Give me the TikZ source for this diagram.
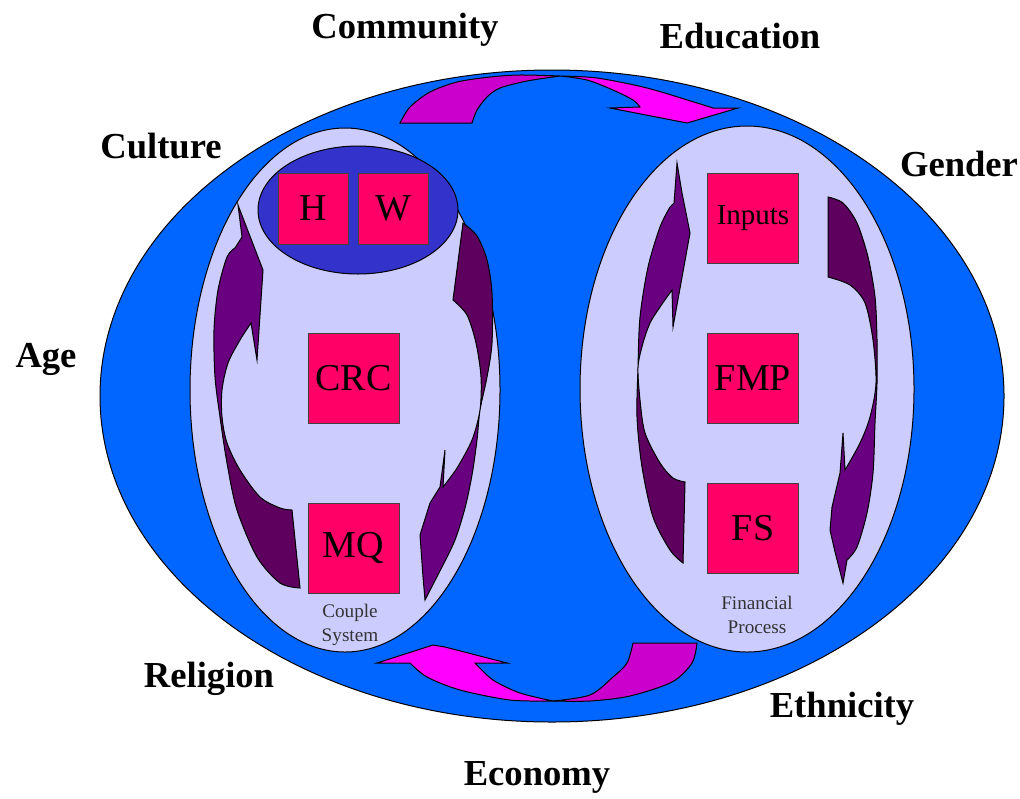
\documentclass[tikz,border=0pt]{standalone}
\usepackage{fontspec}
\setmainfont{Liberation Serif}
\usetikzlibrary{shapes.geometric}
\definecolor{bigblue}{RGB}{0,102,255}
\definecolor{lav}{RGB}{204,204,255}
\definecolor{dblue}{RGB}{51,51,204}
\definecolor{boxred}{RGB}{255,0,102}
\definecolor{purA}{RGB}{104,0,128}
\definecolor{purB}{RGB}{94,0,94}
\definecolor{magA}{RGB}{204,0,204}
\definecolor{magB}{RGB}{255,0,255}
\newcommand\LLpath{(238,205) -- (263,270) -- (257,360) -- (251,323)
 -- plot[smooth] coordinates {(251,323) (240,340) (228,363) (222,390) (222,417) (227,443) (240,470) (260,497) (280,508) (292,510)}
 -- (300,588)
 -- plot[smooth] coordinates {(300,588) (280,583) (257,557) (237,510) (227,463) (220,417) (215,377) (214,330) (218,290) (227,257) (235,248)}
 -- (242,237) -- cycle}
\newcommand\LRpath{(463,223) -- plot[smooth] coordinates {(463,223) (477,236) (487,260) (492,293) (492,343) (487,377) (480,410) (477,440) (472,475) (465,508) (455,540) (443,565)}
 -- (425,600) -- (423,577) -- (420,535) -- (430,503) -- (440,487) -- (445,450) -- (443,487)
 -- plot[smooth] coordinates {(443,487) (457,468) (472,440) (480,410) (481,377) (476,343) (467,315) (453,300)} -- cycle}
\newcommand\RLpath{(677,163) -- (682,193) -- (690,233) -- (673,327) -- (672,290)
 -- plot[smooth] coordinates {(672,290) (660,307) (650,323) (643,343) (638,367) (640,400) (645,433) (660,463) (673,478) (685,482)}
 -- (683,563)
 -- plot[smooth] coordinates {(683,563) (670,550) (653,517) (642,467) (637,417) (638,367) (640,317) (648,267) (660,227) (670,207)}
 -- (674,203) -- cycle}
\newcommand\RRpath{(828,197) -- plot[smooth] coordinates {(828,197) (843,203) (857,223) (868,257) (875,297) (877,340) (877,383) (875,423) (873,473) (867,513) (857,547) (847,560)}
 -- (843,583) -- (835,552) -- (830,530) -- (832,507) -- (840,473) -- (843,433) -- (845,470)
 -- plot[smooth] coordinates {(845,470) (860,443) (870,417) (876,383) (873,340) (865,303) (850,285) (828,277)} -- cycle}
\tikzset{
  outline/.style={draw=black, line width=0.5pt},
  lab/.style={font=\fontsize{18.3}{20}\selectfont\bfseries, anchor=base, inner sep=0pt},
  box/.style={draw=black!75, line width=0.4pt, fill=boxred, inner sep=0pt,
    minimum width=45.5pt, minimum height=45pt, font=\fontsize{19}{20}\selectfont},
  smallbox/.style={box, minimum width=35pt, minimum height=35.5pt},
  note/.style={align=center, text=black!80, font=\fontsize{9.6}{12}\selectfont, inner sep=0pt},
  region/.style={ellipse, outline, inner sep=0pt},
}
\begin{document}
\begin{tikzpicture}[x=0.5pt, y=-0.5pt]
\useasboundingbox (0,0) rectangle (1020,798);
\fill[white] (0,0) rectangle (1020,798);
% big region
\node[region, fill=bigblue, minimum width=452pt, minimum height=326pt] (env) at (552,396) {};
\node[region, fill=lav, minimum width=155pt, minimum height=262pt] (couple) at (345,390) {};
\node[region, fill=lav, minimum width=167pt, minimum height=263pt] (fin) at (747,389) {};
\node[region, fill=dblue, minimum width=100pt, minimum height=64pt] (hw) at (358,210) {};
% boxes
\node[smallbox] (H) at (313,208.5) {H};
\node[smallbox] (W) at (393,208.5) {W};
\node[box] (CRC) at (353.5,378) {CRC};
\node[box] (MQ) at (353.5,548) {MQ};
\node[box, font=\fontsize{14.5}{16}\selectfont] (Inputs) at (753,218.5) {Inputs};
\node[box] (FMP) at (753,378) {FMP};
\node[box] (FS) at (753,528.5) {FS};
\node[note] (cs) at (350,625) {Couple\\System};
\node[note] (fp) at (757,615) {Financial\\Process};
% purple curved arrows
\fill[purA] \LLpath;
\begin{scope}\clip (0,417) rectangle (1020,798); \fill[purB] \LLpath; \end{scope}
\draw[line width=0.5pt] \LLpath;
\fill[purA] \LRpath;
\begin{scope}\clip (0,0) rectangle (1020,410); \fill[purB] \LRpath; \end{scope}
\draw[line width=0.5pt] \LRpath;
\fill[purA] \RLpath;
\begin{scope}\clip (0,367) rectangle (1020,798); \fill[purB] \RLpath; \end{scope}
\draw[line width=0.5pt] \RLpath;
\fill[purA] \RRpath;
\begin{scope}\clip (0,0) rectangle (1020,383); \fill[purB] \RRpath; \end{scope}
\draw[line width=0.5pt] \RRpath;
% top magenta arrow
\filldraw[fill=magA, line width=0.5pt] (400,123) -- (472,123)
  -- plot[smooth] coordinates {(472,123) (477,110) (487,97) (500,88) (527,81) (560,76)}
  -- plot[smooth] coordinates {(560,76) (520,75) (490,77) (457,82) (430,92) (410,107) (400,123)} -- cycle;
\filldraw[fill=magB, line width=0.5pt] (560,76)
  -- plot[smooth] coordinates {(560,76) (597,78) (647,88) (697,103) (713,108)}
  -- (738,108) -- (687,123) -- (610,108) -- (640,107)
  -- plot[smooth] coordinates {(640,107) (633,100) (613,90) (587,80) (560,76)} -- cycle;
% bottom magenta arrow
\filldraw[fill=magA, line width=0.5pt] (633,643) -- (697,643)
  -- plot[smooth] coordinates {(697,643) (692,663) (672,682) (630,696) (590,701) (553,701)}
  -- plot[smooth] coordinates {(553,701) (590,695) (613,677) (627,663) (633,643)} -- cycle;
\filldraw[fill=magB, line width=0.5pt] (553,701)
  -- plot[smooth] coordinates {(553,701) (510,700) (460,690) (427,677) (410,663)}
  -- (377,663) -- (433,645) -- (445,647) -- (507,663) -- (475,663)
  -- plot[smooth] coordinates {(475,663) (493,680) (520,693) (553,701)} -- cycle;
% labels
\node[lab] (community) at (405,38) {Community};
\node[lab] (education) at (740,48) {Education};
\node[lab] (culture) at (161,158) {Culture};
\node[lab] (gender) at (959,176) {Gender};
\node[lab] (age) at (46,367) {Age};
\node[lab] (religion) at (209,687) {Religion};
\node[lab] (ethnicity) at (842,717) {Ethnicity};
\node[lab] (economy) at (537,785) {Economy};
\end{tikzpicture}
\end{document}
